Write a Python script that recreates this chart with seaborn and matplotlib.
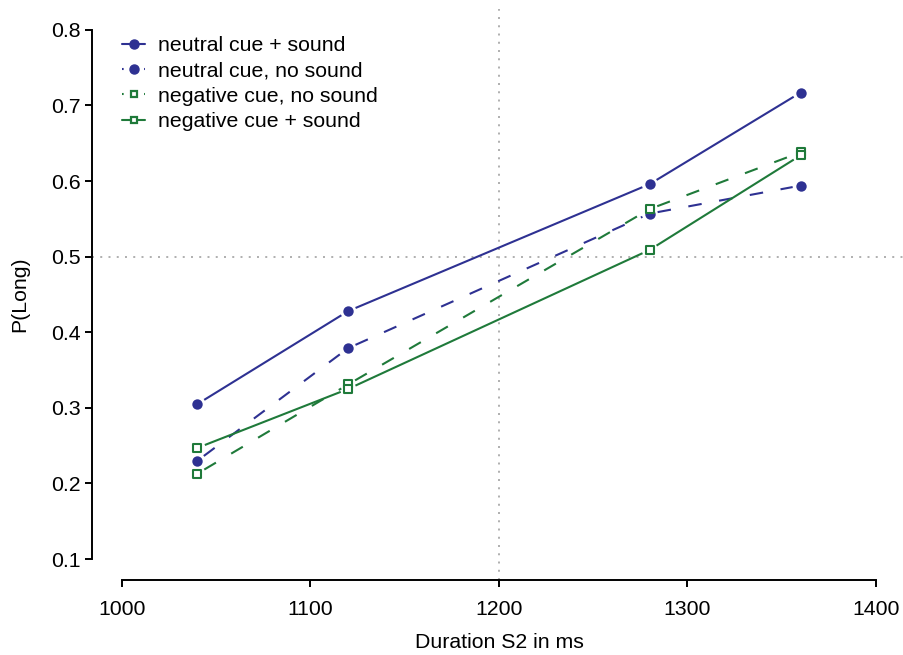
import matplotlib
matplotlib.use("Agg")
import matplotlib.pyplot as plt
import numpy as np
import seaborn as sns
from matplotlib.lines import Line2D

# values
durations = [1040, 1120, 1280, 1360]
neutral_sound = [0.305, 0.428, 0.596, 0.717]
neutral_nosound = [0.230, 0.379, 0.557, 0.594]
negative_nosound = [0.213, 0.331, 0.563, 0.638]
negative_sound = [0.247, 0.325, 0.509, 0.634]

labels = [
    "neutral cue + sound",
    "neutral cue, no sound",
    "negative cue, no sound",
    "negative cue + sound",
]
x_ticks = [1000, 1100, 1200, 1300, 1400]
y_ticks = [0.1, 0.2, 0.3, 0.4, 0.5, 0.6, 0.7, 0.8]

BLUE = "#2E3192"
GREEN = "#1F7A3A"
DASH = (0, (6.5, 8.5))

series = [
    (neutral_sound, BLUE, "o", "-"),
    (neutral_nosound, BLUE, "o", DASH),
    (negative_nosound, GREEN, "s", DASH),
    (negative_sound, GREEN, "s", "-"),
]

sns.set_theme(style="ticks")
plt.rcParams["font.family"] = ["Liberation Sans", "DejaVu Sans"]
plt.rcParams["text.color"] = "black"
plt.rcParams["axes.labelcolor"] = "black"

fig = plt.figure(figsize=(9.04, 6.55), dpi=100)
ax = fig.add_axes([0.1016, 0.1142, 0.9007, 0.8725])
ax.set_xlim(984, 1416)
ax.set_ylim(0.072, 0.828)

# reference lines
ax.axvline(1200, color="#9a9a9a", lw=1.1, ls=(0, (1.3, 4.1)), zorder=0)
ax.axhline(0.5, color="#9a9a9a", lw=1.1, ls=(0, (1.3, 4.1)), zorder=0)

# lines with gaps around the points (R type="b")
gap = 8.0
to_disp = ax.transData
to_data = ax.transData.inverted()
for ys, color, marker, ls in series:
    pts = to_disp.transform(np.column_stack([durations, ys]))
    for p0, p1 in zip(pts[:-1], pts[1:]):
        u = (p1 - p0) / np.hypot(*(p1 - p0))
        seg = to_data.transform(np.array([p0 + gap * u, p1 - gap * u]))
        ax.plot(seg[:, 0], seg[:, 1], color=color, lw=1.5, ls=ls,
                solid_capstyle="butt", dash_capstyle="butt", zorder=2)

for ys, color, marker, ls in series:
    if marker == "o":
        sns.scatterplot(x=durations, y=ys, ax=ax, marker="o", s=56,
                        color=color, edgecolor=color, linewidth=0, zorder=3)
    else:
        sns.scatterplot(x=durations, y=ys, ax=ax, marker="s", s=32,
                        color=color, facecolor="white", edgecolor=color,
                        linewidth=1.5, zorder=3)

ax.set_xticks(x_ticks)
ax.set_xticklabels([str(v) for v in x_ticks])
ax.set_yticks(y_ticks)
ax.set_yticklabels([f"{v:.1f}" for v in y_ticks])

for side in ("top", "right"):
    ax.spines[side].set_visible(False)
ax.spines["left"].set_bounds(0.1, 0.8)
ax.spines["bottom"].set_bounds(1000, 1400)
for side in ("left", "bottom"):
    ax.spines[side].set_linewidth(1.4)
    ax.spines[side].set_color("black")
ax.tick_params(axis="both", length=5, width=1.4, color="black",
               labelsize=15.3, labelcolor="black")
ax.tick_params(axis="x", pad=9)
ax.tick_params(axis="y", pad=3)

ax.set_xlabel("Duration S2 in ms", fontsize=15.3, labelpad=10)
ax.set_ylabel("P(Long)", fontsize=15.3, labelpad=16)

handles = [
    Line2D([], [], color=BLUE, lw=1.5, ls="-", marker="o", ms=6.5),
    Line2D([], [], color=BLUE, lw=1.5, ls=(0, (0.8, 9.8)), marker="o", ms=6.5),
    Line2D([], [], color=GREEN, lw=1.5, ls=(0, (0.8, 9.8)), marker="s", ms=4,
           mfc="white", mew=1.6),
    Line2D([], [], color=GREEN, lw=1.5, ls="-", marker="s", ms=4,
           mfc="white", mew=1.6),
]
ax.legend(handles, labels, loc="upper left", bbox_to_anchor=(0.135, 0.945),
          bbox_transform=fig.transFigure, frameon=False, fontsize=15.3,
          handlelength=1.1, handletextpad=0.6, labelspacing=0.3,
          borderpad=0, borderaxespad=0)

fig.savefig("out.png", dpi=100)
